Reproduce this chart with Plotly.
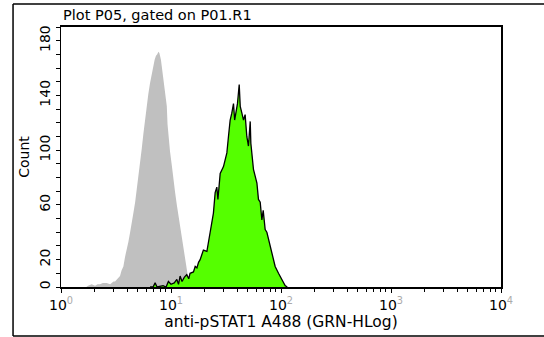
import plotly.graph_objects as go

# ---- data ----
gray_x = [1.70, 1.76, 1.90, 2.04, 2.15, 2.26, 2.40, 2.60, 2.80, 3.00, 3.10, 3.25, 3.44, 3.55,
          3.69, 3.82, 3.96, 4.10, 4.25, 4.40, 4.55, 4.72, 4.89, 5.05, 5.23, 5.42, 5.61, 5.80,
          6.02, 6.22, 6.45, 6.68, 6.92, 7.10, 7.30, 7.50, 7.68, 7.84, 8.10, 8.30, 8.53, 8.80,
          9.00, 9.16, 9.30, 9.47, 9.80, 10.2, 10.5, 10.9, 11.3, 11.7, 12.1, 12.5, 12.9, 13.4,
          13.7, 14.1, 14.5, 14.9, 15.7, 16.6, 17.5, 18.4]
gray_count = [0, 1, 2, 1, 2, 2, 3, 3, 2, 4, 4, 6, 8, 12,
              15, 22, 27, 33, 40, 46, 54, 62, 71, 80, 91, 101, 112, 122,
              132, 141, 149, 156, 162, 166, 169, 170, 172, 171, 166, 159, 154, 143,
              139, 132, 119, 110, 99, 88, 78, 69, 60, 52, 44, 35, 28, 20,
              15, 10, 7, 5, 3, 2, 1, 0]

green_x = [6.45, 6.87, 7.17, 7.47, 8.47, 9.02, 9.47, 10.0, 10.7, 11.3, 11.7, 12.1, 12.6, 13.2,
           13.9, 14.5, 14.9, 16.0, 16.6, 17.2, 17.8, 18.4, 19.7, 21.2, 22.7, 24.3, 25.2, 26.1,
           26.7, 28.0, 30.0, 32.2, 33.3, 34.5, 35.7, 37.0, 37.9, 39.1, 40.2, 41.7, 42.6, 44.1,
           45.6, 47.2, 48.9, 50.6, 52.5, 53.2, 56.2, 60.4, 62.4, 64.7, 67.0, 68.9, 71.8, 74.4,
           77.0, 79.8, 82.6, 88.5, 94.9, 102, 109, 114]
green_count = [0, 0, 3, 0, 1, 0, 4, 2, 3, 5.5, 2, 8, 4, 7,
               9, 6, 10, 11, 15, 14, 18, 20, 27, 26, 40, 54, 69, 73,
               64, 83, 88, 98, 110, 122, 127, 134, 122, 127, 134, 148, 132, 127,
               122, 126, 110, 103, 121, 105, 86, 76, 64, 62, 49, 56, 42, 40,
               35, 30, 25, 15, 10, 5.5, 1, 0]

x_tickvals = [1, 10, 100, 1000, 10000]
x_exponents = ["0", "1", "2", "3", "4"]
y_tickvals = list(range(0, 191, 10))
y_labels_shown = [0, 20, 60, 100, 140, 180]

FONT = "DejaVu Sans"

fig = go.Figure()
fig.add_trace(go.Scatter(x=gray_x, y=gray_count, mode="lines", fill="tozeroy",
                         line=dict(width=0, color="#C0C0C0"), fillcolor="#C0C0C0",
                         hoverinfo="skip", showlegend=False))
fig.add_trace(go.Scatter(x=green_x, y=green_count, mode="lines", fill="tozeroy",
                         line=dict(width=1.3, color="black"), fillcolor="#55FF00",
                         hoverinfo="skip", showlegend=False))

x_ticktext = ["10<sup><span style='color:#AAAAAA'>%s</span></sup>" % e for e in x_exponents]
y_ticktext = [str(v) if v in y_labels_shown else "" for v in y_tickvals]

frame = dict(color="black", width=1.5)
fig.update_layout(
    width=544, height=337,
    margin=dict(l=61, r=43, t=27, b=50, autoexpand=False),
    paper_bgcolor="white", plot_bgcolor="white",
    font=dict(family=FONT, size=14, color="black"),
    xaxis=dict(type="log", range=[0, 4], tickvals=x_tickvals, ticktext=x_ticktext,
               automargin=False,
               ticks="outside", ticklen=4, tickcolor="black", tickwidth=1,
               minor=dict(ticks="outside", ticklen=3, tickcolor="black", dtick="D1"),
               showgrid=False, zeroline=False, showline=True, linecolor="black",
               linewidth=2, mirror=True,
               title=dict(text="anti-pSTAT1 A488 (GRN-HLog)", standoff=2,
                          font=dict(family=FONT, size=15.5)),
               tickfont=dict(family=FONT, size=14)),
    yaxis=dict(range=[0, 190], tickvals=y_tickvals, ticktext=y_ticktext,
               automargin=False,
               tickangle=-90, ticks="outside", ticklen=4, tickcolor="black",
               showgrid=False, zeroline=False, showline=True, linecolor="black",
               linewidth=1.5, mirror=True,
               title=dict(text="Count", standoff=4, font=dict(family=FONT, size=14)),
               tickfont=dict(family=FONT, size=14)),
    shapes=[
        dict(type="line", xref="paper", yref="paper", x0=-0.109, x1=-0.109,
             y0=-0.188, y1=1.088, line=frame),
        dict(type="line", xref="paper", yref="paper", x0=-0.109, x1=1.3,
             y0=1.088, y1=1.088, line=frame),
        dict(type="line", xref="paper", yref="paper", x0=-0.109, x1=1.3,
             y0=-0.188, y1=-0.188, line=frame),
    ],
    annotations=[dict(text="Plot P05, gated on P01.R1", xref="paper", yref="paper",
                      x=0, y=1.046, xanchor="left", yanchor="middle", showarrow=False,
                      font=dict(family=FONT, size=14.5, color="black"))],
)

fig.write_html("out.html", config={"displayModeBar": False, "staticPlot": True},
               post_script="document.body.style.margin='0';document.body.style.overflow='hidden';")
